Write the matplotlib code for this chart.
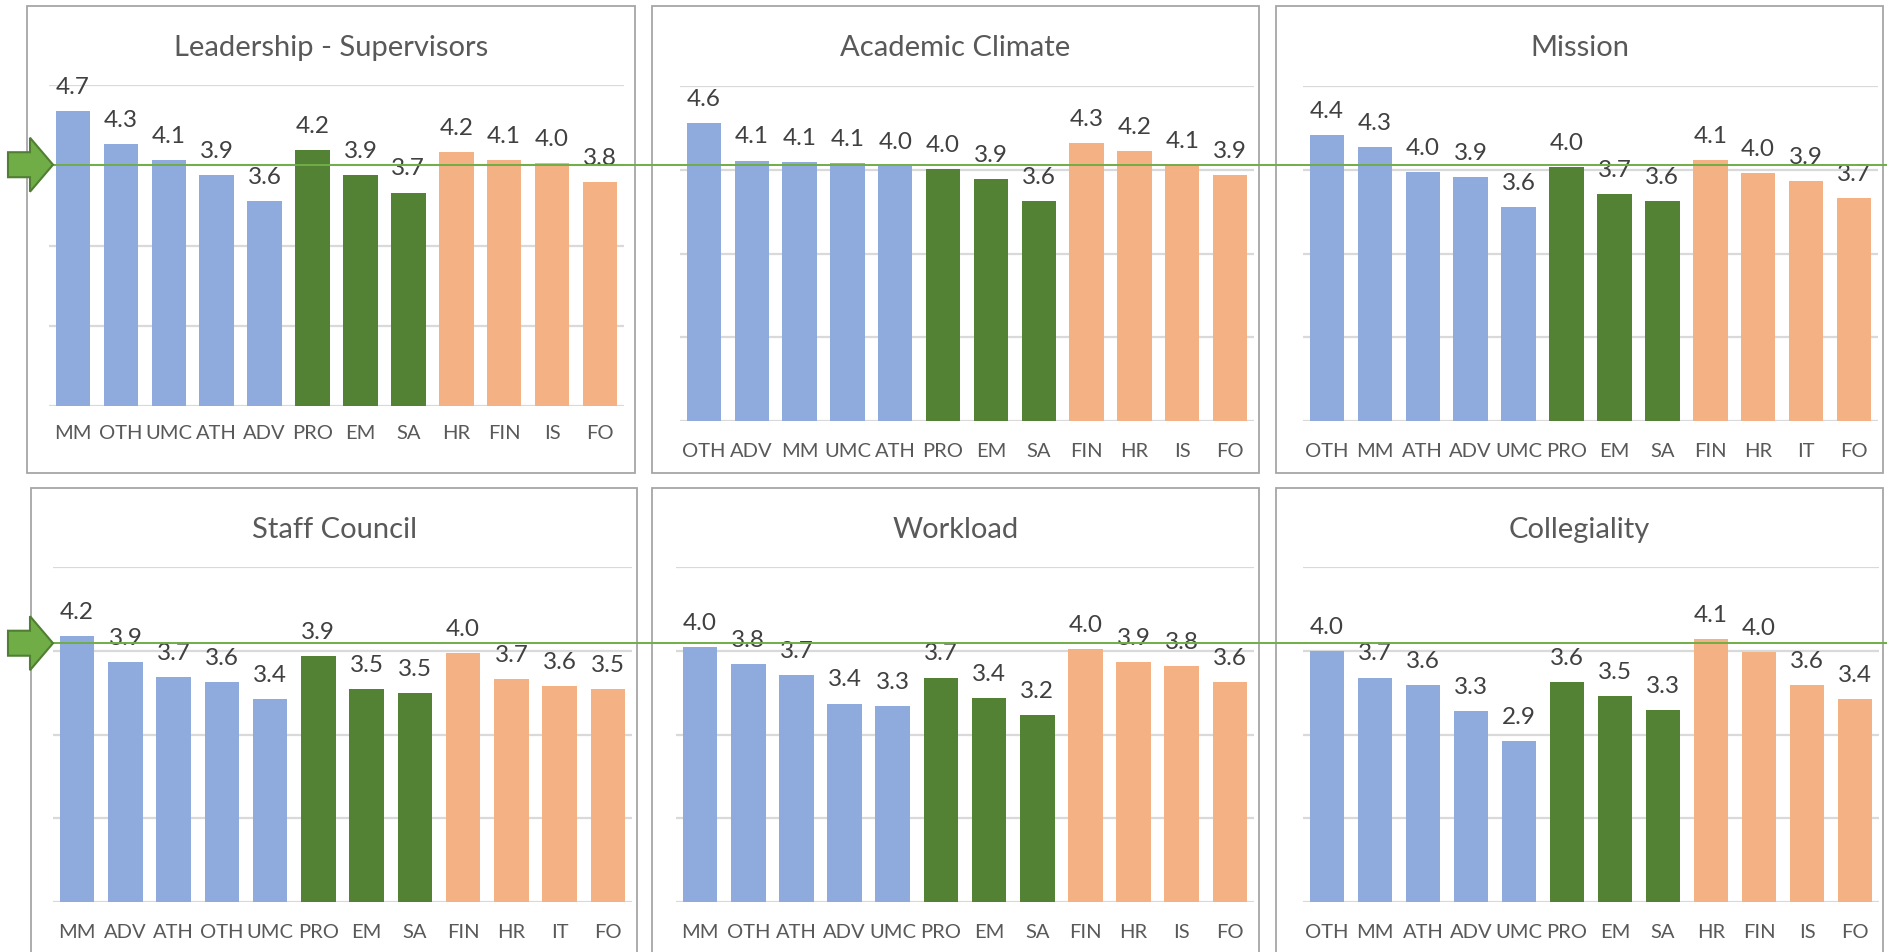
import matplotlib
matplotlib.use("Agg")
import matplotlib.pyplot as plt
from matplotlib.patches import Rectangle, Polygon
from matplotlib.lines import Line2D

W, H = 1887, 953
plt.rcParams["font.family"] = ["Lato", "DejaVu Sans"]

# ---- data (mean scores) ----
lead_cats = ["MM", "OTH", "UMC", "ATH", "ADV", "PRO", "EM", "SA", "HR", "FIN", "IS", "FO"]
lead_vals = [4.68, 4.27, 4.06, 3.88, 3.56, 4.19, 3.88, 3.66, 4.17, 4.07, 4.03, 3.79]

acad_cats = ["OTH", "ADV", "MM", "UMC", "ATH", "PRO", "EM", "SA", "FIN", "HR", "IS", "FO"]
acad_vals = [4.56, 4.11, 4.09, 4.08, 4.04, 4.01, 3.89, 3.63, 4.32, 4.22, 4.06, 3.94]

miss_cats = ["OTH", "MM", "ATH", "ADV", "UMC", "PRO", "EM", "SA", "FIN", "HR", "IT", "FO"]
miss_vals = [4.41, 4.27, 3.97, 3.91, 3.56, 4.03, 3.71, 3.63, 4.12, 3.96, 3.87, 3.66]

staff_cats = ["MM", "ADV", "ATH", "OTH", "UMC", "PRO", "EM", "SA", "FIN", "HR", "IT", "FO"]
staff_vals = [4.18, 3.86, 3.69, 3.63, 3.42, 3.94, 3.54, 3.49, 3.97, 3.66, 3.58, 3.54]

work_cats = ["MM", "OTH", "ATH", "ADV", "UMC", "PRO", "EM", "SA", "FIN", "HR", "IS", "FO"]
work_vals = [4.04, 3.84, 3.71, 3.37, 3.34, 3.68, 3.44, 3.23, 4.02, 3.87, 3.82, 3.63]

coll_cats = ["OTH", "MM", "ATH", "ADV", "UMC", "PRO", "EM", "SA", "HR", "FIN", "IS", "FO"]
coll_vals = [4.00, 3.68, 3.59, 3.28, 2.92, 3.63, 3.46, 3.29, 4.14, 3.98, 3.59, 3.42]

titles = ["Leadership - Supervisors", "Academic Climate", "Mission",
          "Staff Council", "Workload", "Collegiality"]
all_cats = [lead_cats, acad_cats, miss_cats, staff_cats, work_cats, coll_cats]
all_vals = [lead_vals, acad_vals, miss_vals, staff_vals, work_vals, coll_vals]
ref_vals = [4.06, 4.09]   # green benchmark line, top row / bottom row

BLUE, GREEN, ORANGE = "#8FAADC", "#548235", "#F4B183"
bar_colors = [BLUE] * 5 + [GREEN] * 3 + [ORANGE] * 4

# panel layout in pixels: (frame box, plot box)
frames = [(27, 7, 635, 474), (652, 7, 1259, 474), (1276, 7, 1883, 474),
          (31, 489, 637, 990), (652, 489, 1259, 990), (1276, 489, 1883, 990)]
plots = [(49, 86, 624, 407), (680, 87, 1254, 422), (1303, 87, 1878, 422),
         (53, 568, 632, 903), (676, 568, 1254, 903), (1303, 568, 1879, 903)]
title_y = [48, 48, 48, 530, 530, 530]

fig = plt.figure(figsize=(W / 100, H / 100), dpi=100)

def fx(x): return x / W
def fy(y): return 1 - y / H

axes = []
for k in range(6):
    x0, y0, x1, y1 = frames[k]
    fig.patches.append(Rectangle((fx(x0), fy(y1)), fx(x1 - x0), (y1 - y0) / H,
                                 transform=fig.transFigure, fill=False,
                                 edgecolor="#A6A6A6", lw=1.3, zorder=0))
    fig.text(fx((x0 + x1) / 2), fy(title_y[k]), titles[k], ha="center", va="center",
             fontsize=21, color="#595959")
    px0, py0, px1, py1 = plots[k]
    ax = fig.add_axes([fx(px0), fy(py1), fx(px1 - px0), (py1 - py0) / H])
    cats, vals = all_cats[k], all_vals[k]
    xs = list(range(len(cats)))
    ax.bar(xs, vals, width=0.72, color=bar_colors, zorder=2)
    for i, v in enumerate(vals):
        ax.annotate(f"{v:.1f}", (i, v), xytext=(0, 13), textcoords="offset points",
                    ha="center", va="baseline", fontsize=17.5, color="#404040")
    ax.set_xlim(-0.5, len(cats) - 0.5)
    ax.set_ylim(1, 5)
    ax.set_yticks([1, 2, 3, 4, 5])
    ax.yaxis.grid(True, color="#D9D9D9", lw=1.6)
    ax.set_axisbelow(True)
    ax.tick_params(axis="y", left=False, labelleft=False)
    ax.set_xticks(xs)
    ax.set_xticklabels(cats, fontsize=14.5, color="#595959")
    ax.tick_params(axis="x", length=0, pad=15 if k > 0 else 13)
    for s in ax.spines.values():
        s.set_visible(False)
    ax.patch.set_alpha(0)
    axes.append(ax)

# green benchmark line with block arrow, one per row
inv = fig.transFigure.inverted()
for row, ref in enumerate(ref_vals):
    ax = axes[row * 3 + 1]
    ypix = ax.transData.transform((0, ref))[1]
    yf = inv.transform((0, ypix))[1]
    fig.lines.append(Line2D([fx(52), 1.0], [yf, yf], transform=fig.transFigure,
                            color="#70AD47", lw=1.4, zorder=5))
    hh, sh = 27 / H, 12.5 / H
    pts = [(fx(8), yf + sh), (fx(30), yf + sh), (fx(30), yf + hh), (fx(53), yf),
           (fx(30), yf - hh), (fx(30), yf - sh), (fx(8), yf - sh)]
    fig.patches.append(Polygon(pts, closed=True, transform=fig.transFigure,
                               facecolor="#70AD47", edgecolor="#507E32", lw=1.5, zorder=6))

fig.savefig("out.png", dpi=100)
